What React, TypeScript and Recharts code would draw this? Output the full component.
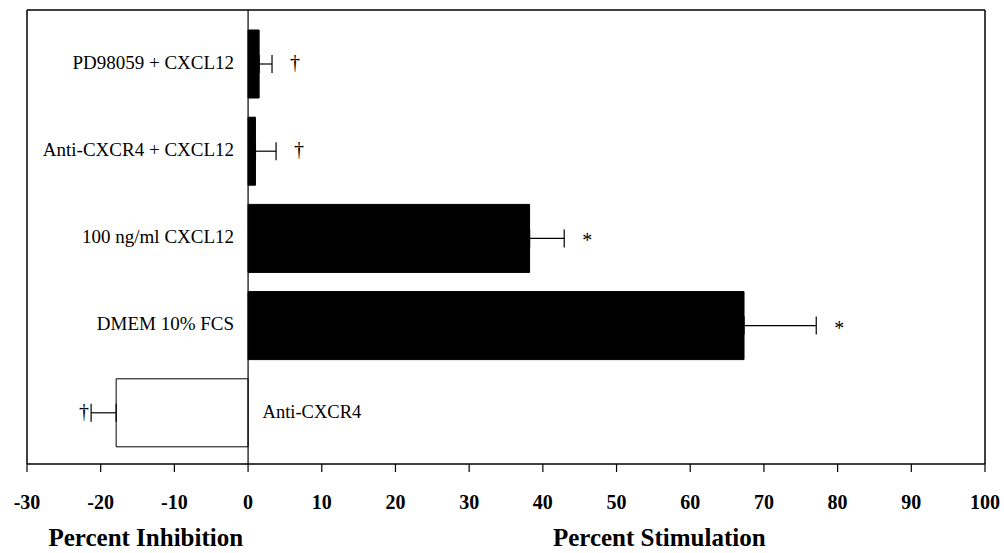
import React from 'react';
import { BarChart, Bar, XAxis, YAxis, ErrorBar, ReferenceLine, LabelList, Cell, Label } from 'recharts';

const categories = ['PD98059 + CXCL12', 'Anti-CXCR4 + CXCL12', '100 ng/ml CXCL12', 'DMEM 10% FCS', 'Anti-CXCR4'];
const values = [1.5, 1.0, 38.2, 67.3, -17.9];
const errLow = [0, 0, 0, 0, 3.4];
const errHigh = [1.75, 2.8, 4.7, 9.8, 0];
const markers = ['†', '†', '*', '*', '†'];
const fills = ['#000', '#000', '#000', '#000', '#fff'];
const xTicks = [-30, -20, -10, 0, 10, 20, 30, 40, 50, 60, 70, 80, 90, 100];
const axisTitles = ['Percent Inhibition', 'Percent Stimulation'];

const data = categories.map((name, i) => ({
  name,
  value: values[i],
  err: [errLow[i], errHigh[i]],
}));

const FONT = '"Liberation Serif", serif';

const geom = (props: any) => {
  const { x, y, width, height, value } = props;
  const i = categories.indexOf(value);
  const v = values[i];
  const left = Math.min(x, x + width);
  const right = Math.max(x, x + width);
  const ppu = (right - left) / Math.abs(v);
  return { i, v, left, right, ppu, cy: y + height / 2 };
};

const renderName = (props: any) => {
  const { i, v, left, right, cy } = geom(props);
  if (i < 0) return null;
  if (v >= 0) {
    return (
      <text x={left - 14} y={cy - 2} textAnchor="end" dominantBaseline="central" fontFamily={FONT} fontSize={19} fill="#000">
        {categories[i]}
      </text>
    );
  }
  return (
    <text x={right + 14.5} y={cy - 1} textAnchor="start" dominantBaseline="central" fontFamily={FONT} fontSize={18.5} fill="#000">
      {categories[i]}
    </text>
  );
};

const renderMarker = (props: any) => {
  const { i, v, left, right, ppu, cy } = geom(props);
  if (i < 0) return null;
  const dy = markers[i] === '*' ? 2 : -2;
  if (v >= 0) {
    const end = right + errHigh[i] * ppu;
    return (
      <text x={end + 23} y={cy + dy} textAnchor="middle" dominantBaseline="central" fontFamily={FONT} fontSize={20} fill="#000">
        {markers[i]}
      </text>
    );
  }
  const end = left - errLow[i] * ppu;
  return (
    <text x={end - 7} y={cy + dy} textAnchor="middle" dominantBaseline="central" fontFamily={FONT} fontSize={20} fill="#000">
      {markers[i]}
    </text>
  );
};

const renderTitles = (props: any) => {
  const vb = props.viewBox || {};
  const { x = 27, y = 464, width = 958 } = vb;
  return (
    <g>
      <text x={x + 0.124 * width} y={y + 82} textAnchor="middle" fontFamily={FONT} fontWeight="bold" fontSize={25} fill="#000">
        {axisTitles[0]}
      </text>
      <text x={x + 0.66 * width} y={y + 82} textAnchor="middle" fontFamily={FONT} fontWeight="bold" fontSize={25} fill="#000">
        {axisTitles[1]}
      </text>
    </g>
  );
};

export default function App() {
  return (
    <div style={{ position: 'absolute', left: 0, top: 0, background: '#fff' }}>
      <BarChart
        layout="vertical"
        width={1004}
        height={553}
        data={data}
        margin={{ top: 9, right: 18, left: 26, bottom: 39 }}
      >
        <XAxis
          type="number"
          dataKey="value"
          domain={[-30, 100]}
          ticks={xTicks}
          interval={0}
          height={50}
          tickSize={8}
          tickMargin={23}
          axisLine={{ stroke: '#000', strokeWidth: 1.5 }}
          tickLine={{ stroke: '#000', strokeWidth: 1.2 }}
          tick={{ fontFamily: FONT, fontWeight: 'bold', fontSize: 20, fill: '#000' }}
        >
          <Label content={renderTitles} />
        </XAxis>
        <XAxis
          xAxisId="top"
          orientation="top"
          type="number"
          domain={[-30, 100]}
          ticks={xTicks}
          height={1}
          tick={false}
          tickLine={false}
          axisLine={{ stroke: '#000', strokeWidth: 1.5 }}
        />
        <YAxis
          type="category"
          dataKey="name"
          width={1}
          tick={false}
          tickLine={false}
          padding={{ top: 10, bottom: 8 }}
          axisLine={{ stroke: '#000', strokeWidth: 1.5 }}
        />
        <YAxis
          yAxisId="right"
          orientation="right"
          type="category"
          dataKey="name"
          width={1}
          tick={false}
          tickLine={false}
          axisLine={{ stroke: '#000', strokeWidth: 1.5 }}
        />
        <ReferenceLine x={0} stroke="#000" strokeWidth={1.2} />
        <Bar dataKey="value" barSize={68} isAnimationActive={false} stroke="#000" strokeWidth={1}>
          {data.map((d, i) => (
            <Cell key={d.name} fill={fills[i]} stroke="#000" />
          ))}
          <ErrorBar dataKey="err" direction="x" width={9} stroke="#000" strokeWidth={1.2} />
          <LabelList dataKey="name" content={renderName} />
          <LabelList dataKey="name" content={renderMarker} />
        </Bar>
      </BarChart>
    </div>
  );
}
